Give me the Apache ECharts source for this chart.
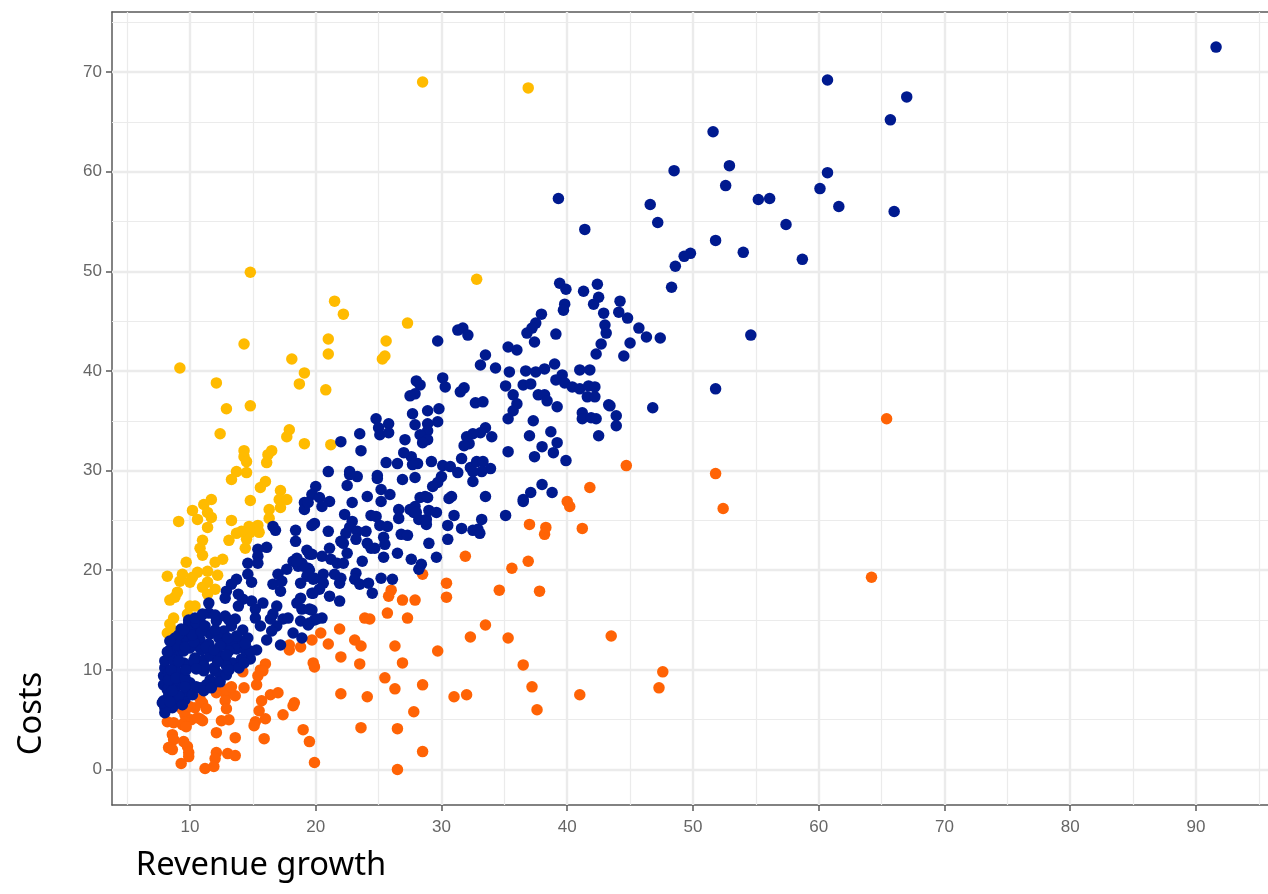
<!DOCTYPE html>
<html><head><meta charset="utf-8">
<style>html,body{margin:0;padding:0;background:#fff}#c{width:1268px;height:894px}</style>
<script src="https://cdn.jsdelivr.net/npm/echarts@6/dist/echarts.min.js"></script>
</head><body><div id="c"></div>
<script>
const xTicks=[10,20,30,40,50,60,70,80,90];
const yTicks=[0,10,20,30,40,50,60,70];
const xMinor=[5,15,25,35,45,55,65,75,85,95];
const yMinor=[5,15,25,35,45,55,65,75];
const yellowPoints=[[14.8,49.9],[28.5,69],[36.9,68.4],[32.8,49.2],[21.5,47],[22.2,45.7],[27.3,44.8],[25.6,43],[25.5,41.5],[25.3,41.2],
[14.3,42.7],[21,43.2],[21,41.7],[18.1,41.2],[9.2,40.3],[19.1,39.8],[18.7,38.7],[12.1,38.8],[20.8,38.1],[12.9,36.2],[14.8,36.5],[12.4,33.7],[17.9,34.1],[17.7,33.4],[19.1,32.7],[21.2,32.6],
[14.3,32],[14.3,31.4],[14.5,30.9],[16.5,32],[16.2,31.6],[16.1,30.8],[13.7,29.9],[14.5,29.8],[13.3,29.1],[16,28.9],[15.6,28.3],[17.2,28],[17.1,27.1],[17.7,27.1],[17.2,26.3],[14.8,27],
[11.7,27.1],[11.1,26.6],[10.2,26],[11.4,25.8],[11.7,25.3],[10.6,25.1],[11.4,24.3],[9.1,24.9],[13.3,25],[16.3,26.1],[16.3,25.2],[15.4,24.5],[14.7,24.4],[13.7,23.7],[13.1,23],[14.8,23.8],[15.5,23.8],[14.5,23.1],[14.4,22.2],[14.1,23.9],
[11,23],[10.8,22.2],[11,21.5],[9.7,20.8],[12,20.8],[12.6,21.1],[9.4,19.6],[8.2,19.4],[10.6,19.8],[11.4,19.9],[10.2,19.3],[12.2,19.5],[9.2,18.9],[10,18.8],[11.4,18.8],[11,18.3],[12,18.1],[11.4,17.6],[9,17.8],[8.8,17.3],[8.4,17],[10,16.4],[10.4,16.4],[9.8,15.6],[8.7,15.2],[8.4,14.6],[8.2,13.7],[8.6,14]];
const orangePoints=[[65.4,35.2],[64.2,19.3],[51.8,29.7],[52.4,26.2],[44.7,30.5],[41.8,28.3],[40,26.9],[40.2,26.4],[41.2,24.2],[37,24.6],[38.2,23.6],[38.3,24.3],[36.9,20.9],[37.8,17.9],[43.5,13.4],[36.5,10.5],[47.6,9.8],[47.3,8.2],[37.2,8.3],[37.6,6],[41,7.5],[31,7.3],[32,7.5],[28.5,8.5],[27.8,5.8],[28.5,1.8],[29.7,11.9],[26.9,10.7],[26.3,12.4],
[31.9,21.4],[35.6,20.2],[28.5,19.6],[30.4,18.7],[30.4,17.3],[34.6,18],[26,18],[25.8,17.4],[26.9,17],[27.9,17],[25.7,15.7],[27.3,15.2],[23.9,15.2],[24.3,15.1],[33.5,14.5],[21.9,14.1],[20.4,13.7],[32.3,13.3],[35.3,13.2],[23.1,13],[23.6,12.4],[21,12.6],[22,11.3],[23.5,10.6],
[17.9,12],[17.9,12.5],[18.8,12.3],[19.7,13],[19.8,10.7],[19.9,10.3],[14.2,9.8],[14.3,8.2],[16,10.6],[15.6,10],[15.8,9.9],[15.4,9.4],[15.3,8.5],[12.1,8],[12.1,7.7],[13.2,8.2],[12.9,7.5],[13.6,7.4],[12.8,6.9],[10.8,7.1],[11,6.7],[12.9,6.1],[11.3,6.1],[10.4,6.2],[9.4,6],[9.6,5.5],[11,4.9],[10.8,5.1],[10.1,5],[9.6,4.8],[9.4,4.5],[9.7,4.3],[8.2,4.8],[8.7,4.7],[12.5,4.9],[13.1,5],[12.1,3.7],[13.6,3.2],[8.6,3.5],[8.7,3],[9.5,2.8],[9.8,2.3],[8.3,2.2],[8.6,2],[9.9,1.7],[9.9,1.3],[12.1,1.7],[12,1.1],[13,1.6],[13.6,1.4],[9.3,0.6],[11.2,0.1],[11.9,0.3],[15.7,6.9],[16.4,7.5],[17,7.7],[15.5,5.9],[16,5.1],[17.4,5.5],[15.2,4.8],[15.1,4.4],[15.9,3.1],[18.3,6.7],[18.2,6.4],[19,4],[19.5,2.8],[19.9,0.7],[22,7.6],[24.1,7.3],[23.6,4.2],[25.5,9.2],[26.3,8.1],[26.5,4.1],[26.5,0],[10,6.3],[10.6,5.2],[12.9,8],[13.3,8.3]];
const bluePoints=[[91.6,72.5],[60.7,69.2],[67,67.5],[65.7,65.2],[51.6,64],[52.9,60.6],[48.5,60.1],[60.7,59.9],[52.6,58.6],[60.1,58.3],[39.3,57.3],[55.2,57.2],[56.1,57.3],[46.6,56.7],[61.6,56.5],[66,56],[47.2,54.9],[57.4,54.7],[41.4,54.2],[51.8,53.1],[54,51.9],[49.8,51.8],[49.3,51.5],[58.7,51.2],[48.6,50.5],[48.3,48.4],[54.6,43.6],[51.8,38.2],[46.8,36.3],
[39.4,48.8],[39.9,48.2],[41.3,48],[42.4,48.7],[42.5,47.4],[42.1,46.7],[39.8,46.7],[39.7,46.1],[44.2,47],[42.9,45.8],[44.1,45.9],[44.8,45.3],[37.95,45.7],[37.5,44.8],[37.2,44.3],[36.8,43.8],[31.7,44.3],[31.3,44.1],[32.1,43.6],[39.1,43.7],[43,44.6],[43.1,43.8],[45.7,44.3],[46.3,43.4],[47.4,43.3],[29.7,43],[37.4,42.9],[42.7,42.7],[45,42.8],[35.3,42.4],[36,42.1],[42.3,41.7],[44.5,41.5],[33.5,41.6],[33.1,40.6],[34.3,40.3],[35.4,39.9],[39,40.7],[36.7,40],[37.5,39.9],[38.2,40.2],[41,40.1],[41.8,40.1],[39.6,39.6],[39.1,39.1],[39.8,38.8],[40.4,38.4],[41,38.2],[41.7,38.5],[42.2,38.4],[36.5,38.6],[37.1,38.7],[35.1,38.5],[28,39],[28.3,38.6],[30.1,39.3],[30.3,38.4],[31.8,38.3],[31.5,37.9],[27.9,37.7],[27.5,37.5],[35.7,37.6],[37.7,37.6],[38.2,37.6],[38.4,37],[41.6,37.4],[42.2,37.4],[43.3,36.6],[43.4,36.5],[43.9,35.5],[43.9,34.5],[36,36.7],[35.7,36],[35.3,35.2],[39.2,36.4],[32.7,36.8],[33.3,36.9],[28.9,36],[27.7,35.7],[29.8,36.2],[29.7,34.9],[28.9,34.7],[27.9,34.6],[37.3,35],[41.2,35.8],[41.2,35.2],[41.9,35.3],[42.3,35.2],[42.5,33.5],[38.7,33.9],[37,33.5],[39.2,32.8],[38,32.4],[38.9,31.8],[37.4,31.4],[39.9,31],[35.3,31.9],[33.5,34.3],[34,33.4],[33.1,33.8],[32.5,33.7],[32,33.4],[32.2,32.7],[31.8,32.5],[28.9,34],[28.3,33.6],[28.9,33.1],[28.5,32.8],[27.1,33.1],[31.6,31.2],[30.1,30.5],[30.7,30.4],[31.3,29.8],[30,29.4],[29.7,28.8],[29.3,28.4],[29.2,30.9],[28.1,30.7],[27.6,31.4],[27,31.8],[27.7,30.6],[32.3,30.3],[32.8,30.9],[33.3,30.9],[33.9,30.2],[33.2,29.9],[32.5,29.9],[32.5,28.9],[27.9,29.3],[26.9,29.1],[38,28.6],[37.1,27.8],[38.8,27.8],[36.5,27.1],[33.5,27.4],[30.8,27.4],[28.7,27.4],
[24.8,35.2],[25,34.3],[25.8,34.7],[25.1,33.6],[25.8,33.8],[23.5,33.7],[22,32.9],[23.6,32],[26.5,30.7],[25.6,30.8],[21,29.9],[22.7,29.9],[23.3,29.4],[22.7,29.6],[24.9,29.5],[24.9,29.2],[22.5,28.5],[20,28.4],[19.7,27.6],[20.3,27.3],[21.1,26.9],[20.5,26.4],[25.2,28.1],[25.9,27.6],[25.2,26.9],[24.1,27.4],[22.9,26.8],[26.6,26.1],[26.6,25.2],[22.3,25.6],[24.4,25.5],[24.8,25.4],[22.9,24.9],[25.1,24.5],[25.7,24.4],[19.9,24.7],[19.7,24.5],[21,23.9],[22.7,24.3],[22.4,23.7],[23.3,23.9],[24,23.9],[22,22.9],[23.2,23.1],[22.2,22.7],[25.4,23.3],[25.5,22.6],[24.1,22.7],[24.4,22.2],[24.7,22.2],[21.1,22.2],[20.5,21.4],[21.2,21.1],[21.7,20.7],[22.2,20.7],[22.5,21.7],[23.7,20.9],[25.4,21.3],[26.5,21.7],[19.7,21.6],[27.6,21.1],[29.6,21.3],[28.4,20.6],[28.2,20.1],[29,22.7],[30.5,23.1],[28.3,27.3],[28.9,27.3],[27.9,26.4],[27.8,25.8],[28.2,25.1],[28.8,24.6],[28.8,25.1],[29,26],[29.6,25.8],[30.6,27.2],[31,25.5],[30.5,24.5],[31.6,24.2],[32.5,24],[32.9,24.1],[33.05,23.7],[33.2,25.1],[35.1,25.5],[36.5,26.9],[27.5,26.1],[28,25.8],[26.8,23.6],[27.3,23.5],
[20.6,19.6],[19.9,19.2],[20.6,18.7],[20.3,18.1],[21.1,17.4],[19.8,17.7],[19.5,20],[21.5,19.6],[22,19.2],[21.9,18.7],[23.2,19.7],[23.1,19.1],[23.5,18.6],[24.2,18.7],[24.5,17.7],[25.2,19.2],[26.1,19.1],[21.9,16.9],[19.7,16],[20.5,15.2],[19.9,15],[19.5,14.7],
[19.1,26.8],[19.1,26.1],[19.4,26.8],[16.6,24.4],[16.8,24],[18.4,24],[18.4,22.9],[16.1,22.3],[15.4,22.1],[15.4,21.4],[14.6,20.7],[15.4,20.7],[14.6,19.6],[13.7,19.1],[19.3,22],[19.5,21.6],[18.5,21.2],[18.2,20.9],[18.9,20.7],[19.4,20.2],[18.6,20.4],[17.7,20.1],[17,19.6],[19.3,19.4],
[14.9,18.8],[13.3,18.6],[12.9,17.9],[12.8,17.2],[13.85,17.6],[14.2,17.1],[13.85,16.4],[14.9,16.9],[15.2,16.1],[15.2,15.2],[15.6,14.4],[15.8,16.7],[16.9,16.4],[16.6,15.6],[17.4,15.1],[16.9,14.4],[16.5,13.9],[16.1,13],[17.8,15.2],[16.4,15.1],[17.2,12.5],[18.2,13.7],[18.9,13.2],[17.2,17.9],[16.6,18.6],[17.3,18.9],[18.8,18.7],[19.4,19.6],[19,20.4],[18.5,20.9],[19.8,19.1],[19.7,17.7],[18.8,17.2],[18.5,16.7],[18.9,16.1],[19.5,16.1],[18.8,14.9],[19.4,14.5],[20.1,15.1],
[11.5,15.7],[11.5,16.7],[9.9,14.7],[10.8,14.9],[9.3,14.1],[8.8,13.2],[8.6,12.6],[9.5,13],[10,12.2],[10.8,13],[10.4,13.9],[12.1,14.9],[12.8,15.4],[13.6,15.1],[13.3,14.4],[12.7,13.9],[11.6,13.6],[11.5,12.6],[12.3,13.2],[12.7,12.7],[12,14],[14.2,14],[14.6,13.2],[15.3,12],[14.8,11.1],[14,12.9],[13.3,12.7],[13.7,12.1],[13.1,11.9],[12.4,11.4],[12.8,11],[13.4,10.7],[14.1,11.1],[14.4,12],[10.8,12.2],[10.4,11.2],[11.1,11],[11.6,11.4],[9,11.5],[8.4,11.2],[8,10.2],[7.9,9.4],[7.9,8.5],[8.2,8],[7.9,6.9],[8,5.7],[8.8,10.4],[9.2,9.7],[8.3,9.7],[8.5,8.9],[9.2,8.5],[8.3,7.4],[8.8,7],[9.6,7],[8.6,6.2],[9.7,7.9],[10,8.7],[10.8,8.2],[10,10.4],[11.1,9.9],[11.6,9],[12,9.9],[12.4,9.5],[11.9,8.7],[11.3,8.5],[10.5,10.5],[12.9,10.4],[11.9,10.2],[8,6.2],[7.8,6.7],[8.3,8.2],[8.3,9],[8.8,7.9],[8,10.9],[8.7,11],[9.5,10.7],[11.1,10.4],[9.5,11.9],[9.1,13.5],[9.9,13.9],[9.9,15],[10.5,14.7],
[8.5,10],[8.9,9.2],[9.6,9.2],[9.1,10.9],[9.7,10],[8.4,12],[9,12.5],[9.6,12.3],[10.3,12.8],[10.2,13.5],[10.9,13.8],[9.5,14],[10.4,15.2],[10.9,12],[11.3,12.3],[10.3,10.9],[10.5,10.1],[9.6,8.3],[9.1,7.4],[8.6,7.9],[9.4,6.5],[8.4,6.8],[10.2,7.5],[10.5,8.3],[11.1,7.9],[11.7,8.2],[12.4,8.8],[12.9,9.5],[13.1,10],[13.9,10.2],[14.3,10.7],[14.8,11.9],[14.4,12.6],[13.7,13.4],[13,13.2],[12.4,12.4],[11.9,12],[12.2,10.8],[12.9,11.5],[11.2,14.4],[11,15.6],[12,15.5],[13.1,15],[8.2,11.8],[8.4,12.9]];
const xRange=[3.8,95.73], yRange=[-3.56,76.02];
const gridC='#ebebeb', borderC='#5a5a5a', labelC='#666666';
const chart=echarts.init(document.getElementById('c'),null,{renderer:'canvas'});
const pts=(name,data,color)=>({name,type:'scatter',data,symbolSize:11.5,xAxisIndex:0,yAxisIndex:0,itemStyle:{color,opacity:1},silent:true,clip:false});
chart.setOption({
 animation:false,backgroundColor:'#fff',
 grid:{left:112,right:0,top:12,bottom:89,containLabel:false},
 xAxis:[{type:'value',min:xRange[0],max:xRange[1],position:'bottom',
   axisLine:{show:true,onZero:false,lineStyle:{color:borderC,width:1.5}},
   axisTick:{show:true,length:6,customValues:xTicks,lineStyle:{color:borderC,width:1.5}},
   axisLabel:{customValues:xTicks,color:labelC,fontFamily:'Liberation Sans',fontSize:17,margin:14},
   splitLine:{show:false},
   name:'Revenue growth',nameLocation:'middle',nameGap:44,
   nameTextStyle:{color:'#000',fontFamily:'Noto Sans',fontSize:32.7,padding:[0,858,0,0]}},
  {type:'value',min:xRange[0],max:xRange[1],position:'top',
   axisLine:{show:true,onZero:false,lineStyle:{color:borderC,width:1.5}},axisTick:{show:false},axisLabel:{show:false},splitLine:{show:false}}],
 yAxis:[{type:'value',min:yRange[0],max:yRange[1],
   axisLine:{show:true,onZero:false,lineStyle:{color:borderC,width:1.5}},
   axisTick:{show:true,length:6,customValues:yTicks,lineStyle:{color:borderC,width:1.5}},
   axisLabel:{customValues:yTicks,color:labelC,fontFamily:'Liberation Sans',fontSize:17,margin:10,padding:[3,0,0,0]},
   splitLine:{show:false},
   name:'Costs',nameLocation:'middle',nameGap:64,
   nameTextStyle:{color:'#000',fontFamily:'Noto Sans',fontSize:32.7,padding:[0,610,0,0]}}],
 series:[
  {type:'scatter',data:[],silent:true,z:1,
   markLine:{silent:true,symbol:'none',label:{show:false},animation:false,z:1,data:[
    ...xMinor.map(v=>({xAxis:v,lineStyle:{color:gridC,width:1.2,type:'solid'}})),
    ...yMinor.map(v=>({yAxis:v,lineStyle:{color:gridC,width:1.2,type:'solid'}})),
    ...xTicks.map(v=>({xAxis:v,lineStyle:{color:gridC,width:2.4,type:'solid'}})),
    ...yTicks.map(v=>({yAxis:v,lineStyle:{color:gridC,width:2.4,type:'solid'}}))]}},
  pts('Yellow',yellowPoints,'#ffbb00'),
  pts('Orange',orangePoints,'#ff6305'),
  pts('Blue',bluePoints,'#001a8f')
 ]
});
</script></body></html>
